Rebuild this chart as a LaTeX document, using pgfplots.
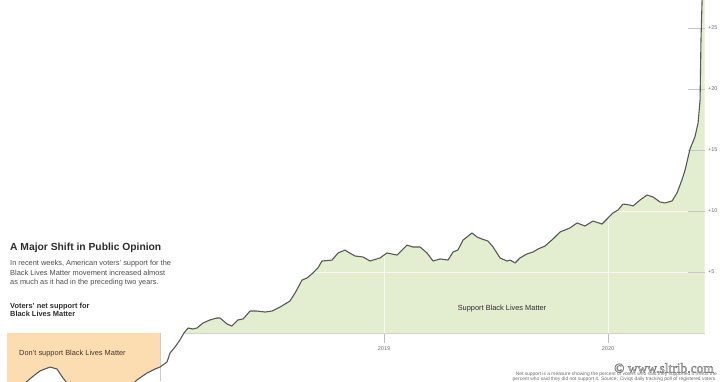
\documentclass[border=0pt]{standalone}
\usepackage{pgfplots}
\pgfplotsset{compat=1.18}
\usepackage{pgfplotstable}
\usepackage{fontspec}
\setmainfont{Liberation Sans}
\newfontfamily\wmfont{Liberation Serif}
\definecolor{bgreen}{RGB}{227,237,208}
\definecolor{borange}{RGB}{252,221,178}
\definecolor{curvec}{RGB}{88,88,88}
\definecolor{tickgray}{RGB}{110,110,110}
\definecolor{basec}{RGB}{205,214,192}
\definecolor{txt}{RGB}{45,45,45}

\pgfplotstableread{
year net
2017.317 -5.0
2017.366 -4.6
2017.429 -3.61
2017.464 -3.11
2017.509 -2.79
2017.540 -2.95
2017.567 -3.69
2017.589 -4.2
2017.643 -5.2
2017.710 -5.8
2017.777 -5.6
2017.844 -4.8
2017.897 -3.85
2017.942 -3.28
2017.978 -2.95
2018.000 -2.79
2018.031 -2.38
2018.045 -1.64
2018.067 -1.15
2018.089 -0.57
2018.107 0.0
2018.125 0.41
2018.147 0.33
2018.165 0.41
2018.192 0.82
2018.223 1.07
2018.254 1.23
2018.268 1.23
2018.299 0.74
2018.321 0.57
2018.348 1.07
2018.371 1.15
2018.402 1.80
2018.433 1.80
2018.469 1.72
2018.500 1.80
2018.536 2.13
2018.580 2.62
2018.603 3.28
2018.634 4.34
2018.656 4.51
2018.683 4.92
2018.705 5.33
2018.723 5.90
2018.768 5.98
2018.795 6.56
2018.826 6.80
2018.839 6.64
2018.871 6.31
2018.906 6.23
2018.938 5.90
2018.951 5.98
2018.982 6.15
2019.013 6.56
2019.058 6.39
2019.103 7.21
2019.129 7.05
2019.161 7.05
2019.192 6.56
2019.219 5.90
2019.250 6.07
2019.286 5.98
2019.308 6.64
2019.330 6.80
2019.353 7.62
2019.393 8.20
2019.415 7.87
2019.438 7.70
2019.464 7.54
2019.487 7.05
2019.518 6.15
2019.549 5.90
2019.563 5.98
2019.585 5.74
2019.607 6.15
2019.638 6.48
2019.665 6.64
2019.688 6.89
2019.719 7.13
2019.754 7.70
2019.786 8.28
2019.830 8.61
2019.862 9.02
2019.897 8.77
2019.933 9.18
2019.973 8.93
2020.000 9.43
2020.022 9.84
2020.045 10.08
2020.067 10.57
2020.098 10.49
2020.112 10.41
2020.143 10.90
2020.174 11.31
2020.201 11.15
2020.232 10.74
2020.254 10.66
2020.286 10.82
2020.308 11.48
2020.330 12.54
2020.344 13.36
2020.366 15.08
2020.388 16.07
2020.402 17.21
2020.411 19.10
2020.415 24.0
2020.420 27.3
2020.424 28.5
2020.431 28.6
}\datatable

\begin{document}
\begin{tikzpicture}[x=1pt,y=1pt]
\begin{axis}[
  at={(0,0)}, anchor=south west,
  scale only axis, width=705pt, height=381pt,
  xmin=2017.2857, xmax=2020.433, ymin=-3.934, ymax=27.295,
  axis line style={draw=none}, major tick length=0pt,
  xtick=\empty,
  ytick={5,10,15,20,25}, yticklabels={+5,+10,+15,+20,+25},
  yticklabel pos=right,
  yticklabel style={font=\fontsize{5.5}{6}\selectfont, text=tickgray, anchor=west, inner sep=0pt, xshift=3pt},
  /pgf/number format/assume math mode=true,
  clip=true,
]
\addplot[draw=none, fill=borange, restrict x to domain=2017.3:2018.001] table[x=year,y=net]{\datatable} \closedcycle;
\addplot[draw=none, fill=bgreen, restrict x to domain=2018.1:2020.44] table[x=year,y=net]{\datatable} \closedcycle;

\draw[white, opacity=0.75, line width=0.8pt] (axis cs:2017.2857,5) -- (axis cs:2020.433,5);
\draw[white, opacity=0.75, line width=0.8pt] (axis cs:2017.2857,10) -- (axis cs:2020.433,10);
\draw[white, opacity=0.75, line width=0.8pt] (axis cs:2017.2857,15) -- (axis cs:2020.433,15);
\draw[white, opacity=0.75, line width=0.8pt] (axis cs:2017.2857,20) -- (axis cs:2020.433,20);
\draw[white, opacity=0.75, line width=0.8pt] (axis cs:2017.2857,25) -- (axis cs:2020.433,25);
\draw[white, opacity=0.75, line width=0.8pt] (axis cs:2019,0) -- (axis cs:2019,27.3);
\draw[white, opacity=0.75, line width=0.8pt] (axis cs:2020,0) -- (axis cs:2020,27.3);

\draw[gray!45, line width=0.5pt] (axis cs:2020.357,5) -- (axis cs:2020.433,5);
\draw[gray!45, line width=0.5pt] (axis cs:2020.357,10) -- (axis cs:2020.433,10);
\draw[gray!45, line width=0.5pt] (axis cs:2020.357,15) -- (axis cs:2020.433,15);
\draw[gray!45, line width=0.5pt] (axis cs:2020.357,20) -- (axis cs:2020.433,20);
\draw[gray!45, line width=0.5pt] (axis cs:2020.357,25) -- (axis cs:2020.433,25);

\draw[gray!50, line width=0.5pt] (axis cs:2019,0) -- (axis cs:2019,-0.8);
\draw[gray!50, line width=0.5pt] (axis cs:2020,0) -- (axis cs:2020,-0.8);
\draw[gray!40, line width=0.5pt] (axis cs:2018,0) -- (axis cs:2018,-3.934);

\draw[basec, line width=1pt] (axis cs:2018.107,0) -- (axis cs:2020.433,0);

\addplot[curvec, line width=1.1pt, line join=round] table[x=year,y=net]{\datatable};

\node[font=\fontsize{5.5}{6}\selectfont, text=tickgray] at (axis cs:2019,-1.31) {2019};
\node[font=\fontsize{5.5}{6}\selectfont, text=tickgray] at (axis cs:2020,-1.31) {2020};
\end{axis}

\node[anchor=base west, inner sep=0pt, text=txt, font=\bfseries\fontsize{10.3}{12}\selectfont] at (10,131) {A Major Shift in Public Opinion};
\node[anchor=base west, inner sep=0pt, text=txt!85!white, font=\fontsize{7.4}{9}\selectfont] at (10,115.5) {In recent weeks, American voters’ support for the};
\node[anchor=base west, inner sep=0pt, text=txt!85!white, font=\fontsize{7.4}{9}\selectfont] at (10,106) {Black Lives Matter movement increased almost};
\node[anchor=base west, inner sep=0pt, text=txt!85!white, font=\fontsize{7.4}{9}\selectfont] at (10,96.5) {as much as it had in the preceding two years.};
\node[anchor=base west, inner sep=0pt, text=txt, font=\bfseries\fontsize{7.4}{9}\selectfont] at (10,73) {Voters’ net support for};
\node[anchor=base west, inner sep=0pt, text=txt, font=\bfseries\fontsize{7.4}{9}\selectfont] at (10,64.5) {Black Lives Matter};
\node[anchor=base west, inner sep=0pt, text={rgb,255:red,70;green,55;blue,40}, font=\fontsize{7.4}{9}\selectfont] at (19,26) {Don’t support Black Lives Matter};
\node[anchor=base, inner sep=0pt, text=txt, font=\fontsize{7.4}{9}\selectfont] at (502,70.5) {Support Black Lives Matter};

\node[anchor=base east, inner sep=0pt, text=tickgray, font=\fontsize{4.9}{5}\selectfont] at (717,5.7) {Net support is a measure showing the percent of voters who said they supported it minus the};
\node[anchor=base east, inner sep=0pt, text=tickgray, font=\fontsize{4.9}{5}\selectfont] at (717,0.6) {percent who said they did not support it. Source: Civiqs daily tracking poll of registered voters.};

\node[anchor=center, inner sep=0pt, text=gray, font=\wmfont\fontsize{13.5}{14}\selectfont] at (664,13) {\special{pdf:literal direct 1 Tr 0.5 w}© www.sltrib.com\special{pdf:literal direct 0 Tr}};

\pgfresetboundingbox
\useasboundingbox (0,0) rectangle (725,381);
\end{tikzpicture}
\end{document}
